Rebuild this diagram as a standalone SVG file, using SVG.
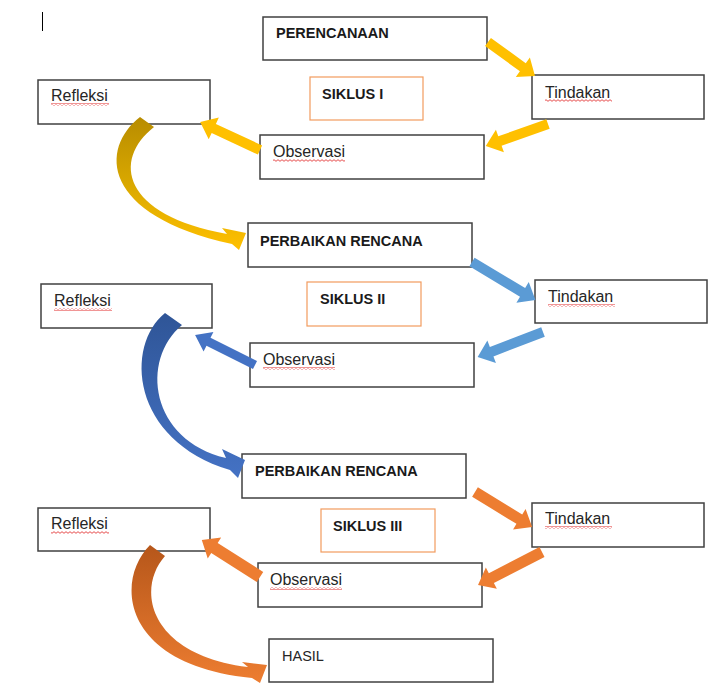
<svg xmlns="http://www.w3.org/2000/svg" width="713" height="693" viewBox="0 0 713 693">
<style>
.box{fill:#fff;stroke:#404040;stroke-width:1.5}
.obox{fill:#fff;stroke:#F29B5E;stroke-width:1.2}
.t{font-family:"Liberation Sans",Arial,sans-serif;font-size:16px;fill:#262626}
.b{font-family:"Liberation Sans",Arial,sans-serif;font-size:14.5px;font-weight:bold;fill:#1a1a1a}
.y{fill:#FFC000}
.lb{fill:#5B9BD5}
.db{fill:#4472C4}
.or{fill:#ED7D31}
.wv{fill:url(#wave)}
</style>
<defs>
<pattern id="wave" width="4" height="3" patternUnits="userSpaceOnUse">
<path d="M0 2.3 L2 0.7 L4 2.3" fill="none" stroke="#E02020" stroke-width="0.8"/>
</pattern>
<linearGradient id="gy" x1="0" y1="117" x2="0" y2="250" gradientUnits="userSpaceOnUse">
<stop offset="0" stop-color="#B88C00"/><stop offset="0.5" stop-color="#D9A800"/><stop offset="1" stop-color="#FFC000"/>
</linearGradient>
<linearGradient id="gb" x1="0" y1="313" x2="0" y2="478" gradientUnits="userSpaceOnUse">
<stop offset="0" stop-color="#2F5597"/><stop offset="1" stop-color="#4472C4"/>
</linearGradient>
<linearGradient id="go" x1="0" y1="543" x2="0" y2="683" gradientUnits="userSpaceOnUse">
<stop offset="0" stop-color="#B5561A"/><stop offset="1" stop-color="#ED7D31"/>
</linearGradient>
</defs>
<rect width="713" height="693" fill="#fff"/>
<line x1="42.5" y1="12" x2="42.5" y2="31" stroke="#000" stroke-width="1"/>

<g id="perencanaan"><rect class="box" x="263" y="17" width="224" height="43"/><text class="b" x="276" y="38">PERENCANAAN</text></g>
<g id="siklus1"><rect class="obox" x="310" y="77" width="113" height="43"/><text class="b" x="322" y="99">SIKLUS I</text></g>
<g id="refleksi1"><rect class="box" x="38" y="80" width="172" height="44"/><text class="t" x="51" y="101">Refleksi</text><rect class="wv" x="51" y="103" width="58" height="3"/></g>
<g id="tindakan1"><rect class="box" x="532" y="75" width="172" height="44"/><text class="t" x="545" y="97.5">Tindakan</text><rect class="wv" x="545" y="99" width="67" height="3"/></g>
<g id="observasi1"><rect class="box" x="260" y="135" width="224" height="44"/><text class="t" x="273" y="157">Observasi</text><rect class="wv" x="273" y="159" width="72" height="3"/></g>
<g id="perbaikan1"><rect class="box" x="248" y="223" width="224" height="44"/><text class="b" x="260" y="246">PERBAIKAN RENCANA</text></g>

<g id="siklus2"><rect class="obox" x="307" y="282" width="114" height="44"/><text class="b" x="320" y="304">SIKLUS II</text></g>
<g id="refleksi2"><rect class="box" x="41" y="284" width="171" height="44"/><text class="t" x="54" y="306">Refleksi</text><rect class="wv" x="54" y="308" width="58" height="3"/></g>
<g id="tindakan2"><rect class="box" x="535" y="280" width="172" height="43"/><text class="t" x="548" y="302">Tindakan</text><rect class="wv" x="548" y="304" width="67" height="3"/></g>
<g id="observasi2"><rect class="box" x="250" y="343" width="224" height="44"/><text class="t" x="263" y="365">Observasi</text><rect class="wv" x="263" y="367" width="72" height="3"/></g>
<g id="perbaikan2"><rect class="box" x="242" y="454" width="224" height="44"/><text class="b" x="255" y="476">PERBAIKAN RENCANA</text></g>

<g id="siklus3"><rect class="obox" x="321" y="509" width="114" height="43"/><text class="b" x="333" y="531">SIKLUS III</text></g>
<g id="refleksi3"><rect class="box" x="38" y="508" width="172" height="43"/><text class="t" x="51" y="529">Refleksi</text><rect class="wv" x="51" y="531" width="58" height="3"/></g>
<g id="tindakan3"><rect class="box" x="532" y="503" width="172" height="44"/><text class="t" x="545" y="524">Tindakan</text><rect class="wv" x="545" y="526" width="67" height="3"/></g>
<g id="observasi3"><rect class="box" x="258" y="563" width="224" height="44"/><text class="t" x="270" y="585">Observasi</text><rect class="wv" x="270" y="587" width="72" height="3"/></g>
<g id="hasil"><rect class="box" x="269" y="639" width="224" height="43"/><text class="t" x="282" y="661" style="font-size:14.5px">HASIL</text></g>

<g id="connectors">
<polygon class="y" transform="translate(488,42) rotate(35.9)" points="0,-5 43,-5 43,-12 58,0 43,12 43,5 0,5"/>
<polygon class="y" transform="translate(548,124) rotate(160.5)" points="0,-5 51,-5 51,-12 66,0 51,12 51,5 0,5"/>
<polygon class="y" transform="translate(260,150) rotate(205)" points="0,-5 51,-5 51,-12 66,0 51,12 51,5 0,5"/>
<path fill="url(#gy)" d="M140 117 C100 148 100 215 232 244 L239 250 L246 233 L222 228 L227 234 C122 215 112 160 154 127 Z"/>

<polygon class="lb" transform="translate(472,262) rotate(31)" points="0,-5 59,-5 59,-12 74,0 59,12 59,5 0,5"/>
<polygon class="lb" transform="translate(543,332) rotate(159)" points="0,-5 55,-5 55,-12 70,0 55,12 55,5 0,5"/>
<polygon class="db" transform="translate(255,365) rotate(206.6)" points="0,-4.5 52,-4.5 52,-11 67,0 52,11 52,4.5 0,4.5"/>
<path fill="url(#gb)" d="M165 313 C125 345 130 440 230 470 L238 478 L245 460 L222 449 L226 458 C150 440 140 360 182 325 Z"/>

<polygon class="or" transform="translate(475,492) rotate(31.5)" points="0,-5.5 52,-5.5 52,-12 67,0 52,12 52,5.5 0,5.5"/>
<polygon class="or" transform="translate(542,552) rotate(152.7)" points="0,-5.5 57,-5.5 57,-12 72,0 57,12 57,5.5 0,5.5"/>
<polygon class="or" transform="translate(260,577) rotate(212.5)" points="0,-6 54,-6 54,-12.5 69,0 54,12.5 54,6 0,6"/>
<path fill="url(#go)" d="M150 545 C115 580 120 665 252 678 L260 683 L267 665 L242 662 L248 667 C150 655 135 590 165 556 Z"/>
</g>
</svg>
